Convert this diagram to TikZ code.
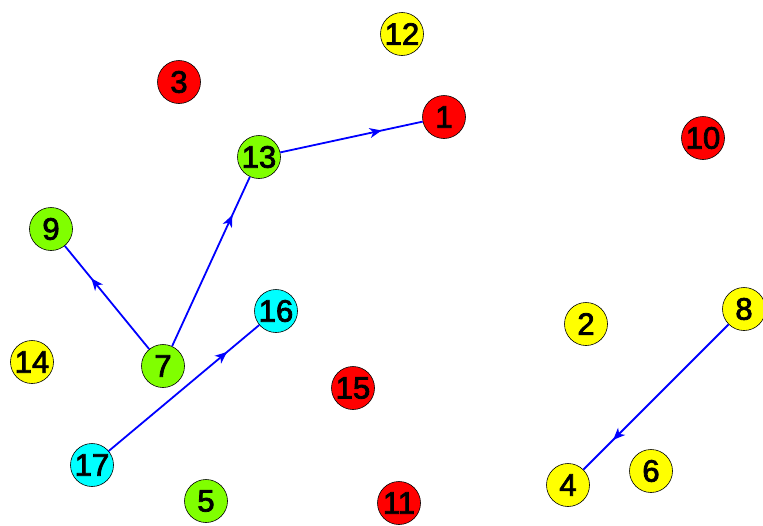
\documentclass[tikz,border=0pt]{standalone}
\usepackage{fontspec}
\setmainfont{Liberation Sans}
\newfontfamily\numfont{Liberation Sans}[FakeBold=2.5]
\usetikzlibrary{decorations.markings,arrows.meta}

\definecolor{nodered}{RGB}{255,0,0}
\definecolor{nodeyellow}{RGB}{255,255,0}
\definecolor{nodegreen}{RGB}{128,255,0}
\definecolor{nodecyan}{RGB}{0,255,255}
\definecolor{edgeblue}{RGB}{0,0,255}

\tikzset{
  vtx/.style={circle, draw=black, line width=0.6pt, inner sep=0pt,
    minimum size=43pt, font=\numfont\fontsize{31}{31}\selectfont},
  flow/.style={draw=edgeblue, line width=1.8pt,
    postaction={decorate},
    decoration={markings,
      mark=at position -42pt with {\arrow[edgeblue]{Stealth[length=12pt,width=10pt,inset=3.5pt]}}}}
}

\begin{document}
\begin{tikzpicture}[x=1pt,y=-1pt]
\clip (0,0) rectangle (763,525);
\fill[white] (0,0) rectangle (763,525);

\node[vtx, fill=nodered] (n1) at (444,117) {1};
\node[vtx, fill=nodeyellow] (n2) at (586,324) {2};
\node[vtx, fill=nodered] (n3) at (179,82) {3};
\node[vtx, fill=nodeyellow] (n4) at (568,485) {4};
\node[vtx, fill=nodegreen] (n5) at (206,501) {5};
\node[vtx, fill=nodeyellow] (n6) at (651,471) {6};
\node[vtx, fill=nodegreen] (n7) at (163,366) {7};
\node[vtx, fill=nodeyellow] (n8) at (744,309) {8};
\node[vtx, fill=nodegreen] (n9) at (51,229) {9};
\node[vtx, fill=nodered] (n10) at (703,138) {10};
\node[vtx, fill=nodered] (n11) at (399,503) {11};
\node[vtx, fill=nodeyellow] (n12) at (402,34) {12};
\node[vtx, fill=nodegreen] (n13) at (259,157) {13};
\node[vtx, fill=nodeyellow] (n14) at (32,362) {14};
\node[vtx, fill=nodered] (n15) at (353,388) {15};
\node[vtx, fill=nodecyan] (n16) at (276,311) {16};
\node[vtx, fill=nodecyan] (n17) at (92,465) {17};

\path[flow] (n7) -- (n9);
\path[flow] (n7) -- (n13);
\path[flow] (n13) -- (n1);
\path[flow] (n17) -- (n16);
\path[flow] (n8) -- (n4);
\end{tikzpicture}
\end{document}
